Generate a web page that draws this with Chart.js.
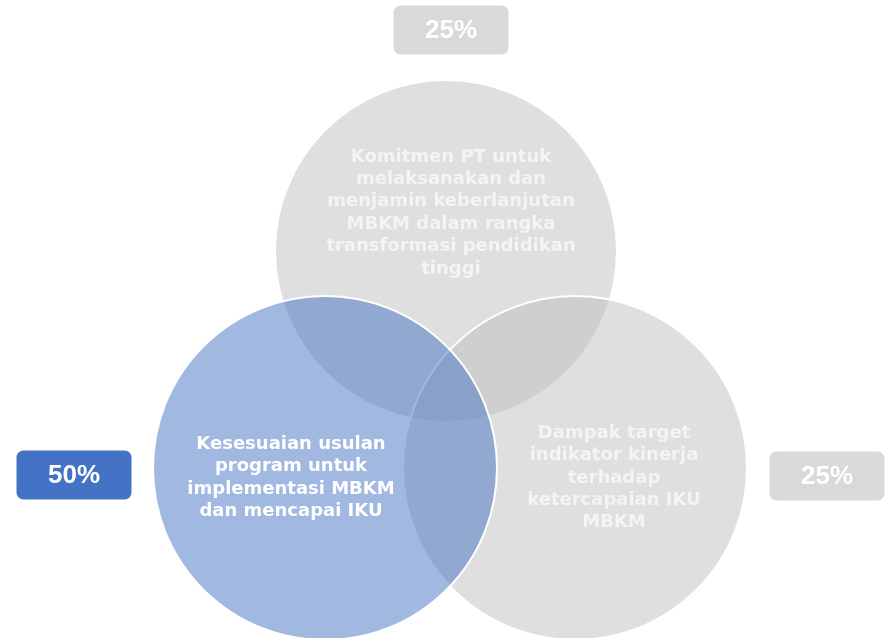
<!DOCTYPE html>
<html>
<head>
<meta charset="utf-8">
<script src="https://cdn.jsdelivr.net/npm/chart.js@4"></script>
<style>
  html, body { margin: 0; padding: 0; background: #ffffff; overflow: hidden; }
</style>
</head>
<body>
<canvas id="venn" width="889" height="638"></canvas>
<script>
// Venn data (drawn in this order: top, right, left)
const labels = [
  "Komitmen PT untuk\nmelaksanakan dan\nmenjamin keberlanjutan\nMBKM dalam rangka\ntransformasi pendidikan\ntinggi",
  "Dampak target\nindikator kinerja\nterhadap\nketercapaian IKU\nMBKM",
  "Kesesuaian usulan\nprogram untuk\nimplementasi MBKM\ndan mencapai IKU"
];
const percents = ["25%", "25%", "50%"];
const centerX = [446, 575, 325];
const centerY = [251, 468, 468];
const radius = [170, 172, 172];

const fills = ["rgba(191,191,191,0.5)", "rgba(191,191,191,0.5)", "rgba(68,114,196,0.5)"];
const borders = [0, 2, 2];
const boxColors = ["#d9d9d9", "#d9d9d9", "#4472c4"];

// where text goes (pixels)
const textPos = [[451, 213], [614, 478], [291, 478]];
const boxPos = [[451, 30], [827, 476], [74, 475]];

const vennLabels = {
  id: "vennLabels",
  afterDatasetsDraw(chart) {
    const ctx = chart.ctx;
    const xs = chart.scales.x, ys = chart.scales.y;
    ctx.save();
    ctx.textAlign = "center";
    ctx.textBaseline = "middle";
    labels.forEach((txt, i) => {
      const lines = txt.split("\n");
      const lh = 22.4;
      const cx = xs.getPixelForValue(textPos[i][0]);
      const cy = ys.getPixelForValue(textPos[i][1]);
      ctx.font = "bold 18px 'DejaVu Sans'";
      ctx.fillStyle = i === 2 ? "#ffffff" : "#f4f4f4";
      lines.forEach((l, k) => {
        ctx.fillText(l, cx, cy + (k - (lines.length - 1) / 2) * lh);
      });

      // percent boxes
      const bx = xs.getPixelForValue(boxPos[i][0]);
      const by = ys.getPixelForValue(boxPos[i][1]);
      const w = 115, h = 49;
      ctx.fillStyle = boxColors[i];
      ctx.beginPath();
      ctx.roundRect(bx - w / 2, by - h / 2, w, h, 7);
      ctx.fill();
      ctx.fillStyle = "#ffffff";
      ctx.font = "bold 26px 'Liberation Sans'";
      ctx.fillText(percents[i], bx, by + 1);
    });
    ctx.restore();
  }
};

new Chart(document.getElementById("venn").getContext("2d"), {
  type: "bubble",
  data: {
    datasets: [{
      data: centerX.map((x, i) => ({ x: x, y: centerY[i], r: radius[i] })),
      backgroundColor: fills,
      borderColor: "#ffffff",
      borderWidth: borders,
      clip: false
    }]
  },
  options: {
    responsive: false,
    animation: false,
    events: [],
    layout: { padding: 0, autoPadding: false },
    plugins: { legend: { display: false }, tooltip: { enabled: false } },
    scales: {
      x: { type: "linear", min: 0, max: 889, display: false },
      y: { type: "linear", min: 0, max: 638, reverse: true, display: false }
    }
  },
  plugins: [vennLabels]
});
</script>
</body>
</html>
